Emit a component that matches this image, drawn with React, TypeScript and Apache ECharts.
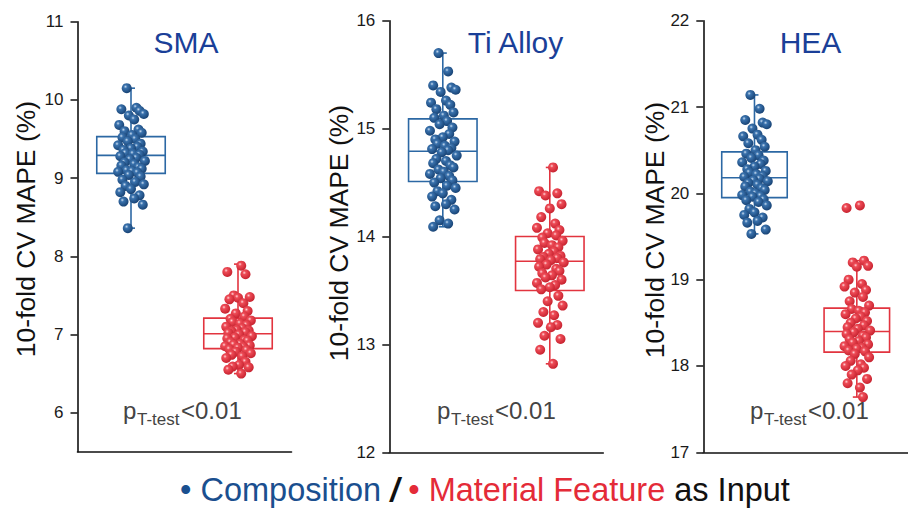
import React, { useEffect, useRef } from "react";
import * as echarts from "echarts";

const PANELS = ["SMA", "Ti Alloy", "HEA"];
const GROUPS = ["Composition", "Material Feature"];

const Y_MIN = [5.5, 12, 17];
const Y_MAX = [11, 16, 22];
const TICKS_SMA = [6, 7, 8, 9, 10, 11];
const TICKS_TI = [12, 13, 14, 15, 16];
const TICKS_HEA = [17, 18, 19, 20, 21, 22];
const TICKS = [TICKS_SMA, TICKS_TI, TICKS_HEA];

// box statistics: [min, Q1, median, Q3, max]
const BOX_SMA_COMP = [8.36, 9.06, 9.29, 9.53, 10.15];
const BOX_SMA_FEAT = [6.5, 6.82, 7.01, 7.21, 7.9];
const BOX_TI_COMP = [14.09, 14.51, 14.79, 15.09, 15.7];
const BOX_TI_FEAT = [12.82, 13.5, 13.77, 14.0, 14.64];
const BOX_HEA_COMP = [19.53, 19.95, 20.18, 20.48, 21.14];
const BOX_HEA_FEAT = [17.64, 18.16, 18.4, 18.67, 19.22];

// individual 10-fold CV runs
const SMA_COMP = [10.15, 9.9, 9.88, 9.86, 9.82, 9.8, 9.75, 9.68, 9.62, 9.6, 9.58, 9.55,
  9.52, 9.5, 9.47, 9.44, 9.42, 9.4, 9.38, 9.36, 9.34, 9.32, 9.31, 9.3,
  9.28, 9.26, 9.24, 9.22, 9.2, 9.18, 9.16, 9.14, 9.12, 9.1, 9.09, 9.08, 9.07,
  9.04, 9.02, 8.98, 8.95, 8.92, 8.9, 8.86, 8.82, 8.78, 8.74, 8.7, 8.66, 8.36];
const SMA_FEAT = [7.88, 7.8, 7.77, 7.5, 7.48, 7.47, 7.45, 7.4, 7.33, 7.3, 7.27, 7.23,
  7.2, 7.18, 7.16, 7.14, 7.12, 7.1, 7.08, 7.06, 7.05, 7.04, 7.03, 7.02,
  7.0, 6.98, 6.96, 6.95, 6.93, 6.92, 6.9, 6.88, 6.87, 6.86, 6.85, 6.84, 6.83,
  6.81, 6.8, 6.78, 6.76, 6.74, 6.72, 6.7, 6.65, 6.61, 6.59, 6.58, 6.55, 6.5];
const TI_COMP = [15.7, 15.53, 15.4, 15.38, 15.36, 15.34, 15.26, 15.24, 15.22, 15.18, 15.15, 15.12, 15.1,
  15.07, 15.04, 15.01, 14.98, 14.95, 14.92, 14.9, 14.88, 14.86, 14.84, 14.82, 14.81, 14.8,
  14.78, 14.75, 14.72, 14.7, 14.68, 14.66, 14.64, 14.62, 14.6, 14.58, 14.56, 14.54, 14.52,
  14.5, 14.47, 14.45, 14.42, 14.4, 14.37, 14.34, 14.3, 14.28, 14.25, 14.15, 14.12, 14.09];
const TI_FEAT = [14.64, 14.42, 14.4, 14.38, 14.3, 14.26, 14.18, 14.12, 14.08, 14.06, 14.03, 14.01,
  13.99, 13.96, 13.94, 13.92, 13.9, 13.88, 13.86, 13.84, 13.82, 13.81, 13.8, 13.79, 13.78,
  13.76, 13.74, 13.72, 13.7, 13.68, 13.66, 13.64, 13.62, 13.6, 13.57, 13.55, 13.53, 13.51,
  13.45, 13.4, 13.36, 13.3, 13.27, 13.2, 13.18, 13.16, 13.08, 13.05, 12.95, 12.82];
const HEA_COMP = [21.14, 20.98, 20.85, 20.82, 20.8, 20.75, 20.68, 20.66, 20.62, 20.58, 20.54, 20.5,
  20.46, 20.44, 20.41, 20.38, 20.36, 20.34, 20.31, 20.28, 20.26, 20.24, 20.22, 20.2, 20.19,
  20.17, 20.15, 20.14, 20.12, 20.1, 20.08, 20.06, 20.04, 20.02, 20.0, 19.98, 19.97, 19.96,
  19.93, 19.92, 19.9, 19.86, 19.82, 19.78, 19.75, 19.72, 19.68, 19.66, 19.58, 19.53];
const HEA_FEAT = [19.86, 19.83, 19.22, 19.2, 19.16, 19.15, 19.0, 18.95, 18.92, 18.88, 18.85, 18.8, 18.75, 18.7,
  18.66, 18.64, 18.62, 18.6, 18.57, 18.55, 18.52, 18.5, 18.47, 18.45, 18.43, 18.41,
  18.39, 18.37, 18.35, 18.33, 18.31, 18.29, 18.27, 18.25, 18.23, 18.21, 18.2, 18.18, 18.17,
  18.14, 18.1, 18.06, 18.02, 18.0, 17.98, 17.95, 17.9, 17.85, 17.8, 17.75, 17.64];

// horizontal jitter of the dots (fraction of a category band)
const JITTER_A = [-0.04, 0.05, -0.09, 0.08, 0.12, -0.02, 0.03, -0.11, 0.07, -0.06, 0.1, 0.01,
  -0.08, 0.04, -0.03, 0.09, -0.12, 0.06, 0.0, -0.07, 0.11, -0.05, 0.02, 0.08,
  -0.1, 0.05, -0.01, 0.13, -0.06, 0.03, -0.09, 0.07, 0.1, -0.04, 0.01, -0.12,
  0.06, -0.02, 0.09, -0.08, 0.04, 0.12, -0.05, 0.0, -0.1, 0.08, 0.03, -0.07,
  0.11, -0.03, 0.05, -0.09];
const JITTER_B = [0.03, -0.1, 0.07, -0.04, 0.11, 0.0, -0.08, 0.05, -0.12, 0.09, -0.02, 0.06,
  -0.07, 0.12, -0.05, 0.02, 0.08, -0.11, 0.04, -0.01, 0.1, -0.06, 0.07, -0.09,
  0.01, 0.13, -0.03, -0.1, 0.06, 0.09, -0.07, 0.02, -0.04, 0.11, -0.12, 0.05,
  0.0, -0.08, 0.08, -0.02, 0.12, -0.06, 0.04, -0.11, 0.07, 0.01, -0.05, 0.1,
  -0.09, 0.03, 0.06, -0.03];

const BOXES = [
  [BOX_SMA_COMP, BOX_SMA_FEAT],
  [BOX_TI_COMP, BOX_TI_FEAT],
  [BOX_HEA_COMP, BOX_HEA_FEAT],
];
const POINTS = [
  [SMA_COMP, SMA_FEAT],
  [TI_COMP, TI_FEAT],
  [HEA_COMP, HEA_FEAT],
];

const FONT = "'Liberation Sans', Arial, Helvetica, sans-serif";
const BLUE_LINE = "#2c68a4";
const RED_LINE = "#e2343f";
const TITLE_BLUE = "#1a3f98";
const AXIS = "#111111";

const GRIDS = [
  { left: 77.5, top: 21.7, width: 214, height: 430.1 },
  { left: 389.3, top: 20.7, width: 214, height: 431.6 },
  { left: 703.3, top: 20.7, width: 215, height: 431.6 },
];
const TITLE_X = [186, 515.5, 810.5];
const YNAME_POS = [[26, 229], [339, 233], [655, 230]];
const P_LEFT = [123, 437, 750];

const blueDot = {
  type: "radial", x: 0.38, y: 0.35, r: 0.7,
  colorStops: [
    { offset: 0, color: "#c9dcf0" },
    { offset: 0.25, color: "#3a72ad" },
    { offset: 1, color: "#153f70" },
  ],
};
const redDot = {
  type: "radial", x: 0.38, y: 0.35, r: 0.7,
  colorStops: [
    { offset: 0, color: "#ffd3d6" },
    { offset: 0.25, color: "#ee4c57" },
    { offset: 1, color: "#c41f2c" },
  ],
};

function buildOption() {
  const grid: any[] = [];
  const xAxis: any[] = [];
  const yAxis: any[] = [];
  const series: any[] = [];
  const graphic: any[] = [];

  PANELS.forEach((name, i) => {
    grid.push({ ...GRIDS[i], containLabel: false });
    xAxis.push({
      type: "category", gridIndex: i, data: GROUPS, boundaryGap: true,
      axisLine: { lineStyle: { color: AXIS, width: 1.6 } },
      axisTick: { alignWithLabel: true, length: 8, lineStyle: { color: AXIS, width: 1.5 } },
      axisLabel: { show: false },
      splitLine: { show: false },
    });
    xAxis.push({ type: "value", gridIndex: i, min: 0, max: 2, show: false });
    yAxis.push({
      type: "value", gridIndex: i, min: Y_MIN[i], max: Y_MAX[i],
      axisLine: { show: true, lineStyle: { color: AXIS, width: 1.6 } },
      axisTick: { show: true, length: 7, customValues: TICKS[i], lineStyle: { color: AXIS, width: 1.5 } },
      axisLabel: { customValues: TICKS[i], fontSize: 17, color: "#1a1a1a", fontFamily: FONT, margin: 14 },
      splitLine: { show: false },
    });

    series.push({
      type: "custom", xAxisIndex: i * 2, yAxisIndex: i, z: 2,
      encode: { x: 0, y: [1, 2, 3, 4, 5] },
      data: BOXES[i].map((b, k) => [k, ...b]),
      renderItem: (_p: any, api: any) => {
        const c = api.value(0);
        const pMin = api.coord([c, api.value(1)]);
        const pQ1 = api.coord([c, api.value(2)]);
        const pMed = api.coord([c, api.value(3)]);
        const pQ3 = api.coord([c, api.value(4)]);
        const pMax = api.coord([c, api.value(5)]);
        const band = api.size([1, 0])[0];
        const w = band * 0.64;
        const cx = pMed[0];
        const color = c === 0 ? BLUE_LINE : RED_LINE;
        const st = { stroke: color, lineWidth: 1.6, fill: "none" };
        const cap = 4;
        return {
          type: "group",
          children: [
            { type: "line", shape: { x1: cx, y1: pQ3[1], x2: cx, y2: pMax[1] }, style: st },
            { type: "line", shape: { x1: cx, y1: pQ1[1], x2: cx, y2: pMin[1] }, style: st },
            { type: "line", shape: { x1: cx - cap, y1: pMax[1], x2: cx + cap, y2: pMax[1] }, style: st },
            { type: "line", shape: { x1: cx - cap, y1: pMin[1], x2: cx + cap, y2: pMin[1] }, style: st },
            { type: "rect", shape: { x: cx - w / 2, y: pQ3[1], width: w, height: pQ1[1] - pQ3[1] }, style: st },
            { type: "line", shape: { x1: cx - w / 2, y1: pMed[1], x2: cx + w / 2, y2: pMed[1] }, style: st },
          ],
        };
      },
    });

    POINTS[i].forEach((vals, k) => {
      const jit = k === 0 ? JITTER_A : JITTER_B;
      series.push({
        type: "scatter", xAxisIndex: i * 2 + 1, yAxisIndex: i, z: 3,
        symbolSize: 10,
        itemStyle: { color: k === 0 ? blueDot : redDot, opacity: 1 },
        data: vals.map((v, j) => [k + 0.5 + jit[j % jit.length], v]),
      });
    });

    graphic.push({
      type: "text", x: TITLE_X[i], y: 42,
      style: { text: name, fontSize: 30, fontFamily: FONT, fill: TITLE_BLUE, align: "center", verticalAlign: "middle" },
    });
    graphic.push({
      type: "text", x: YNAME_POS[i][0], y: YNAME_POS[i][1], rotation: Math.PI / 2,
      style: { text: "10-fold CV MAPE (%)", fontSize: 26.5, fontFamily: FONT, fill: "#111", align: "center", verticalAlign: "middle" },
    });
    const pl = P_LEFT[i];
    graphic.push({
      type: "text", x: pl, y: 410.5,
      style: { text: "p", fontSize: 24, fontFamily: FONT, fill: "#444", align: "left", verticalAlign: "middle" },
    });
    graphic.push({
      type: "text", x: pl + 14, y: 419,
      style: { text: "T-test", fontSize: 17, fontFamily: FONT, fill: "#444", align: "left", verticalAlign: "middle" },
    });
    graphic.push({
      type: "text", x: pl + 58, y: 410.5,
      style: { text: "<0.01", fontSize: 24, fontFamily: FONT, fill: "#444", align: "left", verticalAlign: "middle" },
    });
  });

  const LF = 32.5;
  graphic.push({
    type: "text", x: 485, y: 490,
    style: {
      text: "{b|•} {c|Composition} {s|/} {r|•} {m|Material Feature} {k|as Input}",
      align: "center", verticalAlign: "middle", fontFamily: FONT, fontSize: LF,
      rich: {
        b: { fontSize: LF, fill: "#1a4f8f", fontFamily: FONT },
        c: { fontSize: LF, fill: "#1a4f8f", fontFamily: FONT },
        s: { fontSize: LF, fill: "#111", fontStyle: "italic", fontWeight: "bold", fontFamily: FONT },
        r: { fontSize: LF, fill: "#e42b38", fontFamily: FONT },
        m: { fontSize: LF, fill: "#e42b38", fontFamily: FONT },
        k: { fontSize: LF, fill: "#111", fontFamily: FONT },
      },
    },
  });

  return {
    animation: false,
    backgroundColor: "#ffffff",
    grid, xAxis, yAxis, series, graphic,
  };
}

export default function App() {
  const ref = useRef<HTMLDivElement>(null);
  useEffect(() => {
    if (!ref.current) return;
    const chart = echarts.init(ref.current, null, { renderer: "svg" });
    chart.setOption(buildOption() as any);
    return () => chart.dispose();
  }, []);
  return <div ref={ref} style={{ position: "fixed", left: 0, top: 0, width: 908, height: 508 }} />;
}
